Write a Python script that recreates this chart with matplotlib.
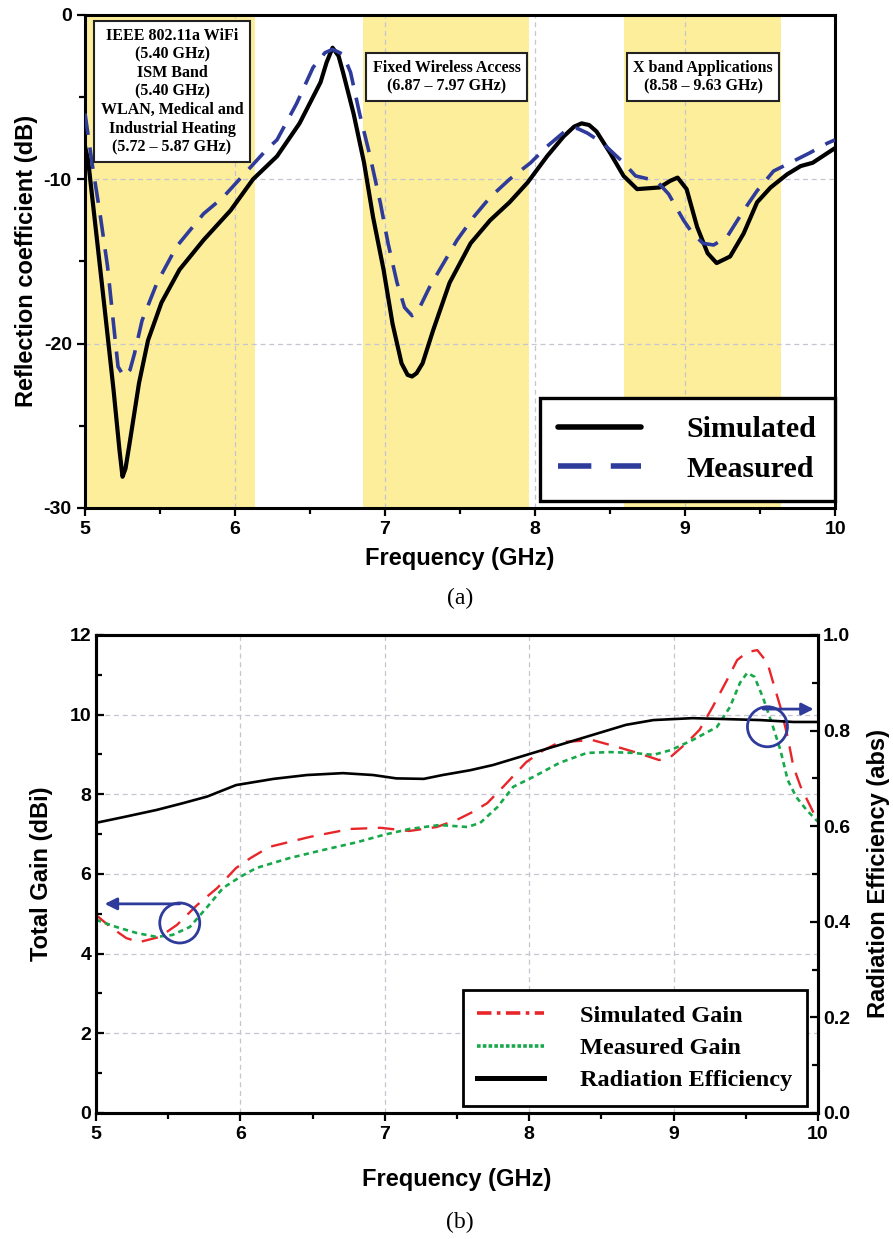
"""Reflection coefficient (a) and gain / radiation efficiency (b) of the antenna."""
import matplotlib

matplotlib.use("Agg")
import matplotlib.pyplot as plt
from matplotlib.lines import Line2D
from matplotlib.patches import Ellipse
from matplotlib.ticker import MultipleLocator, FormatStrFormatter

SANS = "Liberation Sans"
SERIF = "Liberation Serif"
plt.rcParams["axes.unicode_minus"] = False

# ---- (a) S11 data ------------------------------------------------------ #
s11_sim_f = [5.00, 5.02, 5.08, 5.13, 5.19, 5.23, 5.25, 5.27, 5.30, 5.36, 5.42,
             5.51, 5.63, 5.79, 5.97, 6.12, 6.28, 6.43, 6.57, 6.61, 6.65, 6.69,
             6.72, 6.79, 6.86, 6.92, 6.99, 7.05, 7.11, 7.15, 7.18, 7.21, 7.25,
             7.32, 7.43, 7.57, 7.70, 7.83, 7.95, 8.08, 8.19, 8.26, 8.31, 8.36,
             8.41, 8.50, 8.59, 8.68, 8.83, 8.90, 8.95, 9.01, 9.08, 9.15, 9.21,
             9.30, 9.39, 9.48, 9.57, 9.68, 9.77, 9.85, 10.00]
s11_sim_db = [-8.0, -8.8, -13.7, -17.8, -22.8, -26.5, -28.1, -27.6, -25.9, -22.4, -19.8,
              -17.5, -15.5, -13.7, -11.9, -10.0, -8.6, -6.6, -4.1, -2.9, -2.0, -2.5,
              -3.5, -6.0, -9.0, -12.3, -15.5, -18.8, -21.2, -21.9, -22.0, -21.8, -21.2,
              -19.2, -16.3, -13.9, -12.5, -11.4, -10.2, -8.6, -7.4, -6.8, -6.6, -6.7,
              -7.1, -8.4, -9.8, -10.6, -10.5, -10.1, -9.9, -10.6, -12.9, -14.5, -15.1,
              -14.7, -13.3, -11.4, -10.5, -9.7, -9.2, -9.0, -8.1]

s11_meas_f = [5.00, 5.05, 5.10, 5.15, 5.19, 5.22, 5.26, 5.30, 5.33, 5.38, 5.48,
              5.61, 5.79, 5.92, 6.03, 6.21, 6.28, 6.41, 6.52, 6.60, 6.65, 6.72,
              6.77, 6.83, 6.90, 6.97, 7.02, 7.08, 7.13, 7.18, 7.22, 7.30, 7.39,
              7.48, 7.59, 7.70, 7.83, 7.97, 8.08, 8.21, 8.28, 8.35, 8.45, 8.59,
              8.67, 8.81, 8.89, 8.99, 9.05, 9.12, 9.19, 9.28, 9.39, 9.48, 9.59,
              9.70, 9.83, 9.95, 10.00]
s11_meas_db = [-6.0, -9.2, -12.1, -15.3, -18.8, -21.4, -22.0, -21.6, -20.6, -18.6, -16.3,
               -14.1, -12.1, -11.1, -10.0, -8.2, -7.6, -5.4, -3.2, -2.3, -2.1, -2.4,
               -3.5, -6.0, -8.6, -11.5, -13.9, -16.3, -17.8, -18.3, -18.0, -16.5, -15.1,
               -13.7, -12.3, -11.1, -10.0, -9.0, -8.0, -7.0, -6.9, -7.2, -7.8, -9.0,
               -9.8, -10.1, -10.9, -12.5, -13.3, -13.9, -14.0, -13.5, -11.9, -10.7, -9.5,
               -9.0, -8.4, -7.8, -7.6]

band_lo = [5.00, 6.85, 8.59]
band_hi = [6.13, 7.96, 9.64]
band_text = [
    "IEEE 802.11a WiFi\n(5.40 GHz)\nISM Band\n(5.40 GHz)\nWLAN, Medical and\n"
    "Industrial Heating\n(5.72 \u2013 5.87 GHz)",
    "Fixed Wireless Access\n(6.87 \u2013 7.97 GHz)",
    "X band Applications\n(8.58 \u2013 9.63 GHz)",
]

# ---- (b) gain / efficiency data --------------------------------------- #
eff_f = [5.00, 5.19, 5.42, 5.60, 5.77, 5.97, 6.23, 6.46, 6.71, 6.92, 7.08, 7.27,
         7.40, 7.59, 7.75, 7.98, 8.21, 8.44, 8.67, 8.86, 9.13, 9.37, 9.60, 9.83, 10.00]
eff_abs = [0.607, 0.619, 0.634, 0.648, 0.662, 0.686, 0.699, 0.707, 0.711, 0.707, 0.700, 0.699,
           0.707, 0.717, 0.728, 0.749, 0.770, 0.791, 0.812, 0.822, 0.826, 0.824, 0.822, 0.818, 0.818]

gain_sim_f = [5.00, 5.10, 5.21, 5.30, 5.44, 5.56, 5.70, 5.84, 5.97, 6.07, 6.20, 6.48,
              6.76, 6.97, 7.17, 7.36, 7.50, 7.61, 7.71, 7.82, 7.98, 8.10, 8.21, 8.44,
              8.61, 8.75, 8.90, 8.98, 9.09, 9.18, 9.27, 9.37, 9.44, 9.51, 9.58, 9.65,
              9.69, 9.74, 9.79, 9.83, 9.88, 9.97, 10.00]
gain_sim = [4.97, 4.67, 4.39, 4.29, 4.42, 4.72, 5.22, 5.65, 6.15, 6.40, 6.68, 6.93,
            7.13, 7.16, 7.08, 7.18, 7.36, 7.56, 7.78, 8.19, 8.81, 9.11, 9.31, 9.36,
            9.19, 9.04, 8.86, 8.94, 9.29, 9.62, 10.19, 10.87, 11.37, 11.57, 11.62, 11.30,
            10.80, 10.19, 9.44, 8.69, 8.19, 7.53, 7.43]

gain_meas_f = [5.00, 5.14, 5.28, 5.42, 5.53, 5.65, 5.77, 5.88, 6.00, 6.11, 6.34, 6.57,
               6.81, 6.99, 7.17, 7.38, 7.57, 7.66, 7.78, 7.89, 8.03, 8.21, 8.40, 8.56,
               8.72, 8.86, 8.98, 9.13, 9.30, 9.39, 9.46, 9.51, 9.56, 9.62, 9.68, 9.74,
               9.79, 9.85, 9.92, 10.00]
gain_meas = [4.85, 4.67, 4.52, 4.42, 4.47, 4.67, 5.17, 5.65, 5.93, 6.15, 6.40, 6.60,
             6.80, 6.98, 7.13, 7.23, 7.18, 7.28, 7.68, 8.19, 8.44, 8.79, 9.04, 9.06,
             9.04, 8.99, 9.11, 9.36, 9.69, 10.19, 10.80, 11.05, 10.95, 10.42, 9.79, 9.11,
             8.36, 7.93, 7.61, 7.31]

YELLOW = "#FDEE9C"
NAVY = "#2E3B9B"
RED = "#E8262A"
GREEN = "#17A84A"
GRID = dict(color="#C6C6D0", lw=0.9, ls=(0, (4, 3)))


def style_ticks(ax, ydir):
    ax.tick_params(axis="x", which="both", direction="out", width=1.6)
    ax.tick_params(axis="y", which="both", direction=ydir, width=1.6)
    ax.tick_params(which="major", length=6, labelsize=14)
    ax.tick_params(which="minor", length=4)
    for lab in ax.get_xticklabels() + ax.get_yticklabels():
        lab.set_fontfamily(SANS)
        lab.set_fontweight("bold")
    for sp in ax.spines.values():
        sp.set_linewidth(2.2)


def panel_a(ax):
    for lo, hi in zip(band_lo, band_hi):
        ax.axvspan(lo, hi, color=YELLOW, lw=0, zorder=0)
    ax.set_axisbelow(True)
    ax.grid(True, **GRID)

    ax.plot(s11_sim_f, s11_sim_db, color="black", lw=3.0, solid_joinstyle="round",
            solid_capstyle="round", label="Simulated", zorder=3)
    ax.plot(s11_meas_f, s11_meas_db, color=NAVY, lw=2.6, dashes=(6, 3.5),
            label="Measured", zorder=4)

    ax.set_xlim(5, 10)
    ax.set_ylim(-30, 0)
    ax.xaxis.set_major_locator(MultipleLocator(1))
    ax.xaxis.set_minor_locator(MultipleLocator(0.5))
    ax.yaxis.set_major_locator(MultipleLocator(10))
    ax.yaxis.set_minor_locator(MultipleLocator(5))
    style_ticks(ax, "out")

    ax.set_xlabel("Frequency (GHz)", fontsize=17, fontweight="bold", family=SANS, labelpad=6)
    ax.set_ylabel("Reflection coefficient (dB)", fontsize=17, fontweight="bold",
                  family=SANS, labelpad=4)

    # band annotation boxes
    box_xy = [(5.58, -4.66), (7.41, -3.77), (9.12, -3.77)]
    for (x, y), txt in zip(box_xy, band_text):
        ax.text(x, y, txt, ha="center", va="center", fontsize=11.5, fontweight="bold",
                family=SERIF, linespacing=1.22, zorder=6,
                bbox=dict(boxstyle="square,pad=0.4", fc="white", ec="#222222", lw=1.5))

    leg = ax.legend(loc="lower right", bbox_to_anchor=(1.0, 0.014), borderaxespad=0,
                    prop=dict(family=SERIF, weight="bold", size=21.5), fancybox=False,
                    framealpha=1, edgecolor="black", handlelength=2.75,
                    handletextpad=1.55, labelspacing=0.42, borderpad=0.62)
    leg.get_frame().set_linewidth(2.4)
    for ln in leg.get_lines():
        ln.set_linewidth(4)
    leg.set_zorder(7)


def panel_b(ax):
    ax2 = ax.twinx()
    ax.set_axisbelow(True)
    ax.grid(True, **GRID)

    ax.plot(gain_sim_f, gain_sim, color=RED, lw=1.7, dashes=(7, 4.5), zorder=3)
    ax.plot(gain_meas_f, gain_meas, color=GREEN, lw=1.9, dashes=(2, 1.6), zorder=3)
    ax2.plot(eff_f, eff_abs, color="black", lw=1.9, zorder=3)

    ax.set_xlim(5, 10)
    ax.set_ylim(0, 12)
    ax2.set_ylim(0, 1.0)
    ax.xaxis.set_major_locator(MultipleLocator(1))
    ax.xaxis.set_minor_locator(MultipleLocator(0.5))
    ax.yaxis.set_major_locator(MultipleLocator(2))
    ax.yaxis.set_minor_locator(MultipleLocator(1))
    ax2.yaxis.set_major_locator(MultipleLocator(0.2))
    ax2.yaxis.set_minor_locator(MultipleLocator(0.1))
    ax2.yaxis.set_major_formatter(FormatStrFormatter("%.1f"))
    style_ticks(ax, "in")
    style_ticks(ax2, "in")

    ax.set_xlabel("Frequency (GHz)", fontsize=17, fontweight="bold", family=SANS, labelpad=18)
    ax.set_ylabel("Total Gain (dBi)", fontsize=17, fontweight="bold", family=SANS, labelpad=12)
    ax2.set_ylabel("Radiation Efficiency (abs)", fontsize=17, fontweight="bold",
                   family=SANS, labelpad=12)

    # axis-pointer circles with arrows (in efficiency units on the right axis)
    for cx, cy, y_arr, x_tail, x_head in [(5.58, 0.3975, 0.4375, 5.58, 5.06),
                                          (9.65, 0.808, 0.845, 9.62, 9.97)]:
        ax2.add_patch(Ellipse((cx, cy), 0.277, 0.0837, fill=False, ec=NAVY, lw=2.0, zorder=6))
        ax2.annotate("", xy=(x_head, y_arr), xytext=(x_tail, y_arr), zorder=6,
                     arrowprops=dict(arrowstyle="-|>", color=NAVY, lw=2.0,
                                     mutation_scale=18, shrinkA=0, shrinkB=0))

    handles = [
        Line2D([], [], color=RED, lw=2.6, dashes=(4, 1.5, 1, 1.5)),
        Line2D([], [], color=GREEN, lw=2.6, dashes=(1, 0.6)),
        Line2D([], [], color="black", lw=3.6),
    ]
    labels = ["Simulated Gain", "Measured Gain", "Radiation Efficiency"]
    leg = ax2.legend(handles, labels, loc="lower right", bbox_to_anchor=(0.985, 0.015),
                     borderaxespad=0, prop=dict(family=SERIF, weight="bold", size=17.5),
                     fancybox=False, framealpha=1, edgecolor="black", handlelength=2.75,
                     handletextpad=1.5, labelspacing=0.42, borderpad=0.6)
    leg.get_frame().set_linewidth(2.0)


def main():
    fig = plt.figure(figsize=(8.93, 12.39), dpi=100)
    ax_a = fig.add_axes([0.0952, 0.590, 0.840, 0.398])
    ax_b = fig.add_axes([0.1075, 0.1017, 0.8085, 0.3858])
    panel_a(ax_a)
    panel_b(ax_b)

    fig.text(0.515, 1 - 598 / 1239, "(a)", ha="center", va="center", fontsize=17, family=SERIF)
    fig.text(0.515, 1 - 1222 / 1239, "(b)", ha="center", va="center", fontsize=17, family=SERIF)
    fig.savefig("out.png", dpi=100)
    plt.close(fig)


if __name__ == "__main__":
    main()
